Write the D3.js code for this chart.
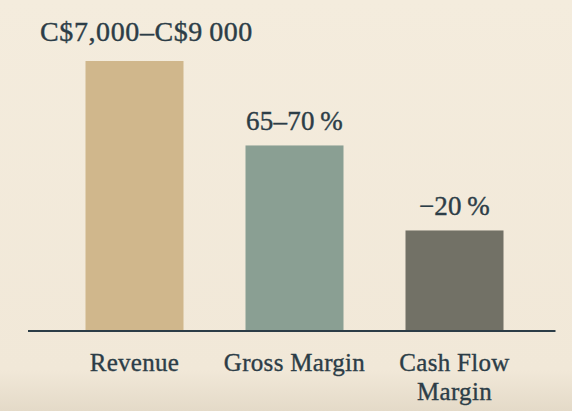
<!DOCTYPE html>
<html>
<head>
<meta charset="utf-8">
<script src="https://cdn.jsdelivr.net/npm/d3@7"></script>
<style>
  html, body { margin: 0; padding: 0; background: #f3ebdc; }
  svg { display: block; }
</style>
</head>
<body>
<svg id="chart" width="572" height="411"></svg>
<script>
// Data
const categories = ["Revenue", "Gross Margin", "Cash Flow\nMargin"];
const barValues = [100, 68.6, 37];           // relative bar heights
const valueLabels = ["C$7,000–C$9\u2009000", "65–70\u2009%", "−20\u2009%"];
const colors = ["#d0b78c", "#8a9f93", "#727166"];

const W = 572, H = 411;
const svg = d3.select("#chart");

// Background
const defs = svg.append("defs");
const grad = defs.append("linearGradient").attr("id", "bg").attr("x1", 0).attr("y1", 0).attr("x2", 0).attr("y2", 1);
grad.append("stop").attr("offset", "0%").attr("stop-color", "#f4ecdd");
grad.append("stop").attr("offset", "90%").attr("stop-color", "#f1e8d8");
grad.append("stop").attr("offset", "100%").attr("stop-color", "#e4dac8");
svg.append("rect").attr("width", W).attr("height", H).attr("fill", "url(#bg)");

const baseY = 330;
const x = d3.scaleBand().domain(categories).range([54.5, 534.5]).paddingInner(0.3875).paddingOuter(0.19375);
const y = d3.scaleLinear().domain([0, 100]).range([baseY, 61]);

const ink = "#2c3d47";
const font = "'Liberation Serif', 'Times New Roman', serif";

// Bars
svg.selectAll("rect.bar").data(categories).join("rect")
  .attr("class", "bar")
  .attr("x", d => x(d))
  .attr("width", x.bandwidth())
  .attr("y", (d, i) => y(barValues[i]))
  .attr("height", (d, i) => y(0) - y(barValues[i]))
  .attr("fill", (d, i) => colors[i]);

// Baseline
svg.append("line")
  .attr("x1", 28).attr("x2", 555.5)
  .attr("y1", baseY + 1).attr("y2", baseY + 1)
  .attr("stroke", ink).attr("stroke-width", 2);

// Value labels
svg.selectAll("text.val").data(categories).join("text")
  .attr("class", "val")
  .attr("x", (d, i) => x(d) + x.bandwidth() / 2 + (i === 0 ? 12 : 0))
  .attr("y", (d, i) => y(barValues[i]) - (i === 0 ? 20 : 15.5))
  .attr("text-anchor", "middle")
  .attr("font-family", font)
  .attr("font-size", (d, i) => i === 0 ? 28 : 27)
  .attr("letter-spacing", (d, i) => i === 0 ? 0.6 : 0.2)
  .attr("fill", ink)
  .attr("stroke", ink)
  .attr("stroke-width", 0.4)
  .text((d, i) => valueLabels[i]);

// Category labels
const cat = svg.selectAll("text.cat").data(categories).join("text")
  .attr("class", "cat")
  .attr("text-anchor", "middle")
  .attr("font-family", font)
  .attr("font-size", 25)
  .attr("letter-spacing", 0.3)
  .attr("fill", ink)
  .attr("stroke", ink)
  .attr("stroke-width", 0.35);
cat.each(function(d) {
  const t = d3.select(this);
  const cx = x(d) + x.bandwidth() / 2;
  d.split("\n").forEach((line, k) => {
    t.append("tspan").attr("x", cx).attr("y", 371 + k * 28.5).text(line);
  });
});
</script>
</body>
</html>
